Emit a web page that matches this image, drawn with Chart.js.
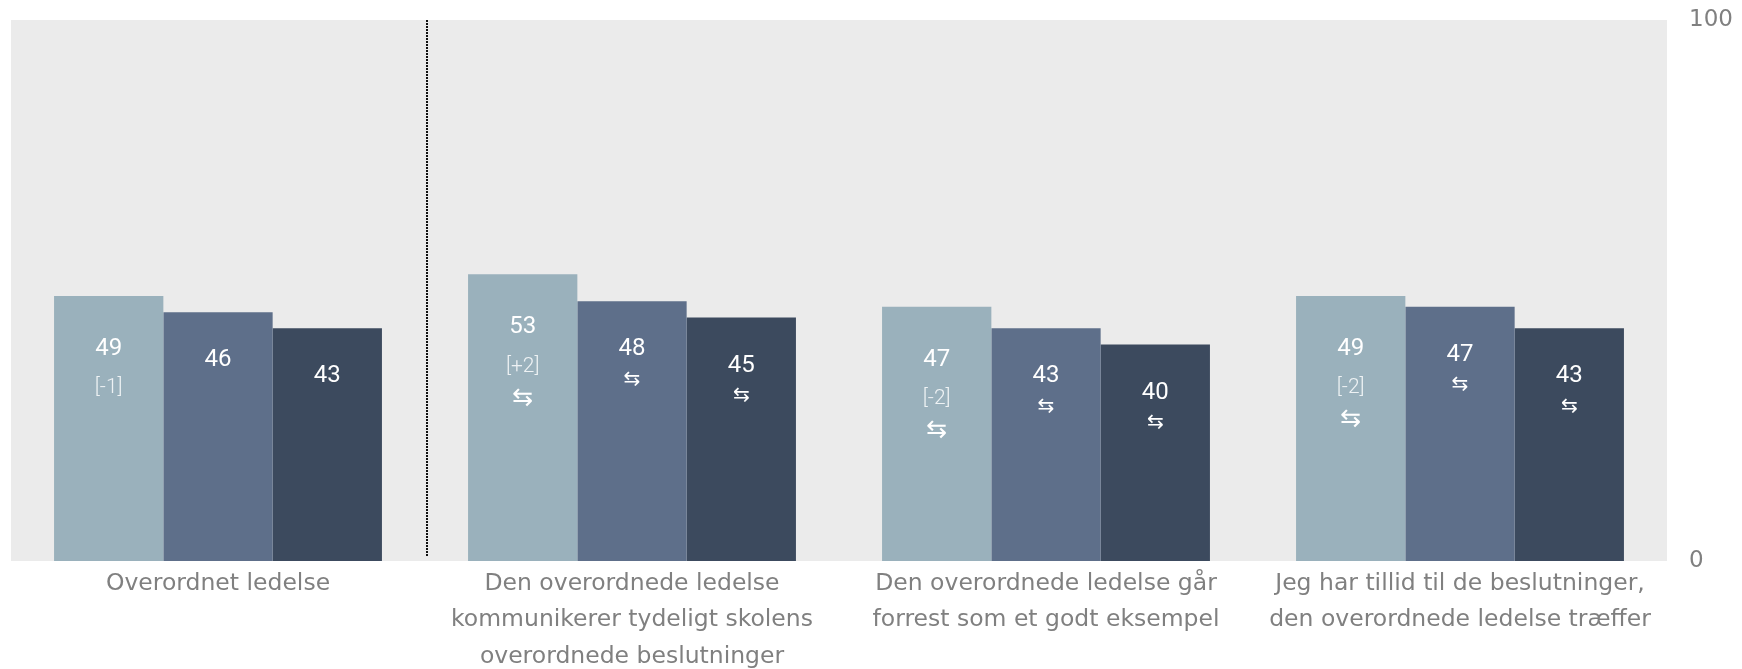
<!DOCTYPE html>
<html>
<head>
<meta charset="utf-8">
<script src="https://cdn.jsdelivr.net/npm/chart.js@4/dist/chart.umd.min.js"></script>
<style>
  body { margin: 0; background: #fff; }
</style>
</head>
<body>
<canvas id="bar-chart" width="1742" height="669"></canvas>
<script>
const categories = [
    ["Overordnet ledelse"],
    ["Den overordnede ledelse", "kommunikerer tydeligt skolens", "overordnede beslutninger"],
    ["Den overordnede ledelse går", "forrest som et godt eksempel"],
    ["Jeg har tillid til de beslutninger,", "den overordnede ledelse træffer"]
];
const series1 = [49, 53, 47, 49];
const series2 = [46, 48, 43, 47];
const series3 = [43, 45, 40, 43];
const diffs1 = ["[-1]", "[+2]", "[-2]", "[-2]"];
const arrows = [false, true, true, true];
const yTicks = [0, 100];

const colors = ["#9ab1bc", "#5e6f8a", "#3c4a5e"];
const axisGrey = "#808080";

// grey plot background + dotted divider after the first category
const backdrop = {
    id: "backdrop",
    beforeDatasetsDraw: (chart) => {
        const { ctx, chartArea } = chart;
        ctx.save();
        ctx.fillStyle = "#ebebeb";
        ctx.fillRect(chartArea.left, chartArea.top, chartArea.right - chartArea.left, chartArea.bottom - chartArea.top);
        const xs = chart.scales.x;
        const divX = (xs.getPixelForValue(0) + xs.getPixelForValue(1)) / 2 + 2;
        ctx.strokeStyle = "#111";
        ctx.lineWidth = 2;
        ctx.setLineDash([2, 1]);
        ctx.beginPath();
        ctx.moveTo(divX, chartArea.top);
        ctx.lineTo(divX, chartArea.bottom - 5);
        ctx.stroke();
        ctx.restore();
    }
};

// value, change and arrow labels inside the bars
const barLabels = {
    id: "barLabels",
    afterDatasetsDraw: (chart) => {
        const ctx = chart.ctx;
        ctx.save();
        ctx.textAlign = "center";
        ctx.textBaseline = "middle";
        chart.data.datasets.forEach((ds, di) => {
            chart.getDatasetMeta(di).data.forEach((bar, i) => {
                const first = di === 0;
                ctx.fillStyle = "#ffffff";
                ctx.font = "24px Roboto";
                ctx.fillText(ds.data[i], bar.x, bar.y + (first ? 53 : 48));
                if (first) {
                    ctx.fillStyle = "#eef2f4";
                    ctx.font = "300 21px Roboto";
                    ctx.fillText(diffs1[i], bar.x, bar.y + 92);
                    if (arrows[i]) {
                        ctx.fillStyle = "#ffffff";
                        ctx.font = "25px 'DejaVu Sans'";
                        ctx.fillText("\u21C6", bar.x, bar.y + 124);
                    }
                } else if (arrows[i]) {
                    ctx.fillStyle = "#ffffff";
                    ctx.font = "20px 'DejaVu Sans'";
                    ctx.fillText("\u21C6", bar.x, bar.y + 78);
                }
            });
        });
        ctx.restore();
    }
};

const ctx = document.getElementById("bar-chart");
new Chart(ctx, {
    type: "bar",
    data: {
        labels: categories,
        datasets: [series1, series2, series3].map((d, i) => ({
            data: d,
            backgroundColor: colors[i],
            borderWidth: 0,
            categoryPercentage: 0.792,
            barPercentage: 1.0
        }))
    },
    options: {
        responsive: false,
        animation: false,
        layout: { padding: { left: 11, top: 20, right: 0, bottom: 0 } },
        plugins: {
            legend: { display: false },
            tooltip: { enabled: false }
        },
        scales: {
            x: {
                grid: { display: false, drawTicks: false },
                border: { display: false },
                ticks: {
                    color: axisGrey,
                    font: { family: "'DejaVu Sans'", size: 23.5, lineHeight: 1.54 },
                    padding: 5,
                    maxRotation: 0,
                    autoSkip: false
                },
                afterFit: (s) => { s.height = 108; }
            },
            y: {
                position: "right",
                min: 0,
                max: 100,
                afterBuildTicks: (s) => { s.ticks = yTicks.map(v => ({ value: v })); },
                grid: { display: false, drawTicks: false },
                border: { display: false },
                ticks: {
                    color: axisGrey,
                    font: { family: "'DejaVu Sans'", size: 23 },
                    padding: 22
                },
                afterFit: (s) => {
                    s.width = 75;
                    s.paddingTop = 0;
                    s.paddingBottom = 0;
                }
            }
        }
    },
    plugins: [backdrop, barLabels]
});
</script>
</body>
</html>
